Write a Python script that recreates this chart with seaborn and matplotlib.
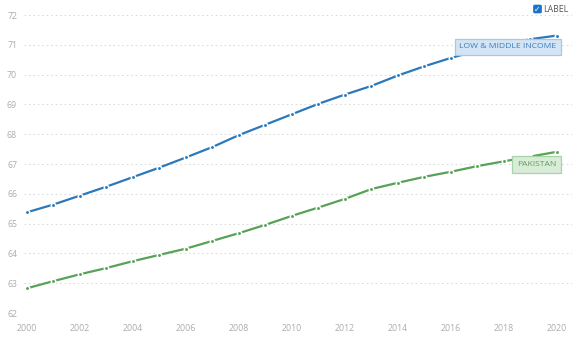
import pandas as pd
import seaborn as sns
import matplotlib as mpl
mpl.use('Agg')
import matplotlib.pyplot as plt
from matplotlib.patches import FancyBboxPatch

years = list(range(2000, 2021))
lmi = [65.38, 65.64, 65.94, 66.24, 66.56, 66.88, 67.22, 67.57, 67.97, 68.32,
       68.67, 69.02, 69.33, 69.62, 69.97, 70.28, 70.56, 70.80, 71.01, 71.19, 71.31]
pak = [62.83, 63.07, 63.30, 63.51, 63.74, 63.95, 64.16, 64.42, 64.68, 64.96,
       65.26, 65.54, 65.83, 66.16, 66.37, 66.57, 66.74, 66.93, 67.09, 67.25, 67.41]
names = ['LOW & MIDDLE INCOME', 'PAKISTAN']
colors = ['#2b79bb', '#57a257']
yticks = list(range(62, 73))
xticks = list(range(2000, 2021, 2))

df = pd.DataFrame({'year': years * 2,
                   'value': lmi + pak,
                   'series': [names[0]] * len(years) + [names[1]] * len(years)})

sns.set_style('white')
plt.rcParams['font.family'] = ['Open Sans', 'DejaVu Sans']

fig = plt.figure(figsize=(5.79, 3.53), dpi=100)
ax = fig.add_axes([0.0415, 0.1133, 0.9465, 0.8442])
sns.lineplot(data=df, x='year', y='value', hue='series', palette=colors,
             marker='o', markersize=3.2, markeredgecolor='white',
             markeredgewidth=1.1, linewidth=1.6, legend=False, ax=ax, zorder=3)

ax.set_xlim(1999.89, 2020.57)
ax.set_ylim(62, 72)
ax.set_xticks(xticks)
ax.set_yticks(yticks)
ax.set_xlabel('')
ax.set_ylabel('')
for s in ax.spines.values():
    s.set_visible(False)
ax.grid(axis='y', color='#dcdcdc', linestyle=(0, (1.5, 2.5)), linewidth=0.8)
ax.grid(axis='x', visible=False)
ax.tick_params(axis='y', length=0, pad=5, labelsize=6.3, labelcolor='#acacac')
ax.tick_params(axis='x', length=3, width=0.6, color='#cccccc', pad=5,
               labelsize=6.3, labelcolor='#acacac')

# series labels at the line ends
box_styles = [('#d3e5f5', '#a6c8e6', '#3b7cbd'), ('#d8ecd8', '#a9d3a9', '#5f9f5f')]
ends = [lmi[-1], pak[-1]]
offsets = [(-0.4, -5.6), (-0.4, -6.6)]
for name, yv, off, (fc, ec, tc) in zip(names, ends, offsets, box_styles):
    ax.annotate(name, xy=(years[-1], yv), xytext=off, textcoords='offset points',
                ha='right', va='top', fontsize=6.1, color=tc, zorder=4,
                bbox=dict(boxstyle='square,pad=0.55', fc=fc, ec=ec, lw=0.9))

# checkbox toggle at top right
cb = FancyBboxPatch((533.5 / 579, 1 - 13 / 353), 8 / 579, 8 / 353,
                    boxstyle='round,pad=0,rounding_size=0.003', transform=fig.transFigure,
                    fc='#1a73c9', ec='#1a73c9', lw=0.5)
fig.patches.append(cb)
fig.text(537.5 / 579, 1 - 9 / 353, '\u2713', color='white', fontsize=5.5, fontweight='bold',
         ha='center', va='center', family='DejaVu Sans')
fig.text(543 / 579, 1 - 9 / 353, 'LABEL', color='#555555', fontsize=6.3,
         ha='left', va='center')

plt.savefig('out.png', dpi=100)
